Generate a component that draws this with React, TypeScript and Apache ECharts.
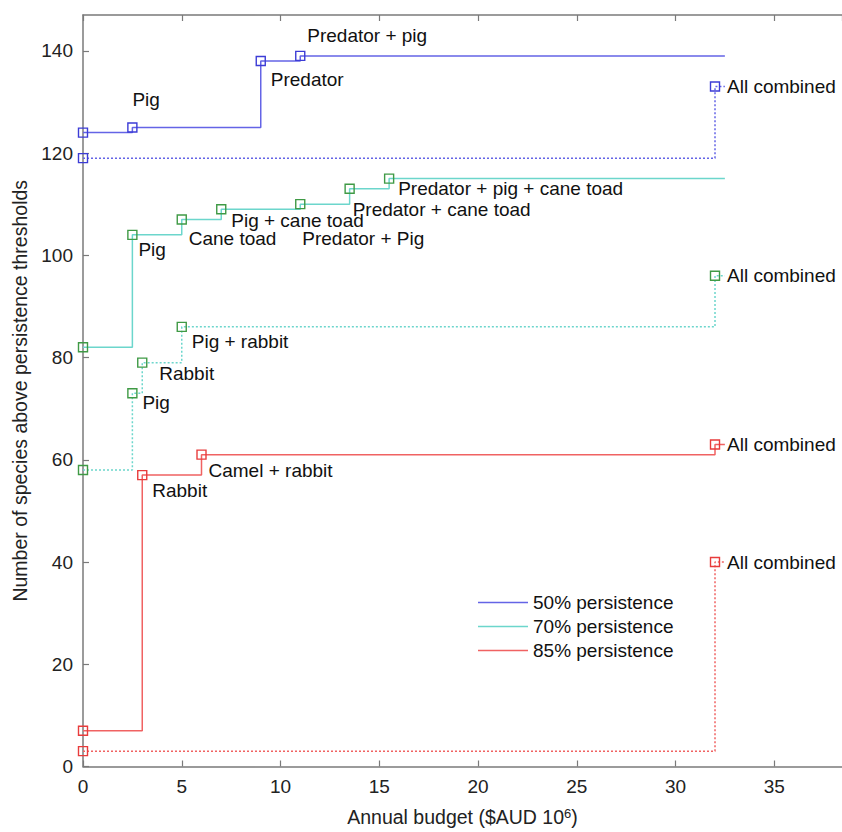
import React, { useEffect, useRef } from "react";
import * as echarts from "echarts";

// ---------- Data ----------
const seriesNames = ["50% persistence", "70% persistence", "85% persistence"];

// 50% persistence – individual actions (solid)
const budget50 = [0, 2.5, 9, 11, 32.5];
const species50 = [124, 125, 138, 139, 139];
const labels50 = ["", "Pig", "Predator", "Predator + pig", ""];

// 50% persistence – combined (dotted)
const budget50c = [0, 32, 32.5];
const species50c = [119, 133, 133];
const labels50c = ["", "All combined", ""];

// 70% persistence – individual actions (solid)
const budget70 = [0, 2.5, 5, 7, 11, 13.5, 15.5, 32.5];
const species70 = [82, 104, 107, 109, 110, 113, 115, 115];
const labels70 = [
  "",
  "Pig",
  "Cane toad",
  "Pig + cane toad",
  "Predator + Pig",
  "Predator + cane toad",
  "Predator + pig + cane toad",
  "",
];

// 70% persistence – combined (dotted)
const budget70c = [0, 2.5, 3, 5, 32, 32.5];
const species70c = [58, 73, 79, 86, 96, 96];
const labels70c = ["", "Pig", "Rabbit", "Pig + rabbit", "All combined", ""];

// 85% persistence – individual actions (solid)
const budget85 = [0, 3, 6, 32, 32.5];
const species85 = [7, 57, 61, 63, 63];
const labels85 = ["", "Rabbit", "Camel + rabbit", "All combined", ""];

// 85% persistence – combined (dotted)
const budget85c = [0, 32, 32.5];
const species85c = [3, 40, 40];
const labels85c = ["", "All combined", ""];

// ---------- Label placement (pixel offsets from marker centre) ----------
const off50 = [null, [0, -28], [10, 18], [7, -20], null];
const off50c = [null, [12, 0], null];
const off70 = [null, [6, 15], [7, 19], [10, 11], [2, 34], [3, 21], [9, 10], null];
const off70c = [null, [10, 9], [17, 11], [10, 15], [12, 0], null];
const off85 = [null, [10, 15], [7, 16], [12, 0], null];
const off85c = [null, [12, 0], null];

const FONT = "'Liberation Sans', Arial, Helvetica, sans-serif";

const blueLine = "#6464e6";
const blueMark = "#3c3cd6";
const cyanLine = "#6cd6cc";
const greenMark = "#3f9a45";
const redLine = "#f06262";
const redMark = "#e83c3c";

function buildData(xs: number[], ys: number[], labels: string[], offs: any[]) {
  return xs.map((x, i) => {
    const last = i === xs.length - 1;
    const item: any = { value: [x, ys[i]] };
    if (last) item.symbol = "none";
    if (labels[i]) {
      item.label = {
        show: true,
        formatter: labels[i],
        position: "inside",
        align: "left",
        verticalAlign: "middle",
        offset: offs[i] || [0, 0],
        fontSize: 19,
        fontFamily: FONT,
        color: "#111",
      };
    }
    return item;
  });
}

function makeSeries(
  name: string,
  xs: number[],
  ys: number[],
  labels: string[],
  offs: any[],
  lineColor: string,
  markColor: string,
  dotted: boolean
) {
  return {
    name,
    type: "line",
    step: "end",
    data: buildData(xs, ys, labels, offs),
    symbol: "rect",
    symbolSize: 9,
    showAllSymbol: true,
    itemStyle: { color: "rgba(255,255,255,0)", borderColor: markColor, borderWidth: 1.4 },
    lineStyle: {
      color: lineColor,
      width: 1.5,
      type: dotted ? [2, 2] : "solid",
    },
    label: { show: false },
    emphasis: { disabled: true },
    z: dotted ? 2 : 3,
  };
}

export default function App() {
  const ref = useRef<HTMLDivElement>(null);

  useEffect(() => {
    if (!ref.current) return;
    const chart = echarts.init(ref.current, undefined, { renderer: "svg" });

    const axisLine = { show: true, lineStyle: { color: "#7a7a7a", width: 1.5 } };
    const axisTick = { show: true, inside: true, length: 6, lineStyle: { color: "#7a7a7a", width: 1.2 } };

    chart.setOption({
      animation: false,
      backgroundColor: "#ffffff",
      textStyle: { fontFamily: FONT },
      grid: { left: 83, right: 0, top: 15, bottom: 61, containLabel: false },
      legend: {
        orient: "vertical",
        left: 473,
        top: 588,
        itemWidth: 50,
        itemHeight: 1.5,
        itemGap: 5,
        icon: "rect",
        textStyle: { fontSize: 19, fontFamily: FONT, color: "#111" },
        data: [
          { name: seriesNames[0], itemStyle: { color: blueLine, borderWidth: 0 } },
          { name: seriesNames[1], itemStyle: { color: cyanLine, borderWidth: 0 } },
          { name: seriesNames[2], itemStyle: { color: redLine, borderWidth: 0 } },
        ],
        selectedMode: false,
      },
      xAxis: [
        {
          type: "value",
          min: 0,
          max: 38.43,
          interval: 5,
          position: "bottom",
          axisLine,
          axisTick,
          splitLine: { show: false },
          axisLabel: {
            fontSize: 19,
            color: "#222",
            fontFamily: FONT,
            margin: 10,
            showMaxLabel: false,
          },
          name: "Annual budget ($AUD 10{sup|6})",
          nameLocation: "middle",
          nameGap: 40,
          nameTextStyle: {
            fontSize: 19.5,
            color: "#222",
            fontFamily: FONT,
            verticalAlign: "top",
            rich: {
              sup: { fontSize: 13, verticalAlign: "top", padding: [0, 0, 8, 0], color: "#222", fontFamily: FONT },
            },
          },
        },
        {
          type: "value",
          min: 0,
          max: 38.43,
          interval: 5,
          position: "top",
          axisLine,
          axisTick,
          splitLine: { show: false },
          axisLabel: { show: false },
        },
      ],
      yAxis: {
        type: "value",
        min: 0,
        max: 147,
        interval: 20,
        axisLine,
        axisTick,
        splitLine: { show: false },
        axisLabel: {
          fontSize: 19,
          color: "#222",
          fontFamily: FONT,
          margin: 10,
          showMaxLabel: false,
        },
        name: "Number of species above persistence thresholds",
        nameLocation: "middle",
        nameGap: 53,
        nameTextStyle: { fontSize: 19.5, color: "#222", fontFamily: FONT },
      },
      series: [
        makeSeries(seriesNames[0], budget50, species50, labels50, off50, blueLine, blueMark, false),
        makeSeries("50% combined", budget50c, species50c, labels50c, off50c, blueLine, blueMark, true),
        makeSeries(seriesNames[1], budget70, species70, labels70, off70, cyanLine, greenMark, false),
        makeSeries("70% combined", budget70c, species70c, labels70c, off70c, cyanLine, greenMark, true),
        makeSeries(seriesNames[2], budget85, species85, labels85, off85, redLine, redMark, false),
        makeSeries("85% combined", budget85c, species85c, labels85c, off85c, redLine, redMark, true),
      ],
    });

    return () => chart.dispose();
  }, []);

  return (
    <div
      ref={ref}
      style={{ position: "fixed", left: 0, top: 0, width: 842, height: 832, background: "#fff" }}
    />
  );
}
